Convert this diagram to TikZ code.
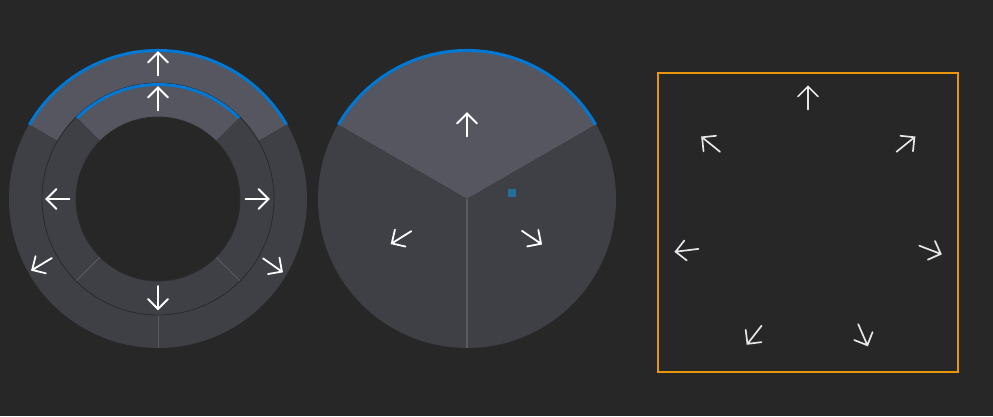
\documentclass[tikz,border=0pt]{standalone}
\usetikzlibrary{calc}
\definecolor{bg}{HTML}{272727}
\definecolor{segdark}{HTML}{3F4046}
\definecolor{seglight}{HTML}{55565F}
\definecolor{accent}{HTML}{0078D4}
\definecolor{sepline}{HTML}{5A5B61}
\definecolor{edgeline}{HTML}{2A2A2D}
\definecolor{framecol}{HTML}{E8960C}
\definecolor{markcol}{HTML}{236E98}
\definecolor{arrowgrey}{HTML}{E6E6E6}
\tikzset{
  arrowline/.style={draw=white, line width=1.8pt, line cap=round, line join=miter},
  softarrow/.style={draw=arrowgrey, line width=1.7pt},
  accentarc/.style={draw=accent, line width=3pt},
  sepstroke/.style={draw=sepline, line width=0.9pt},
  edgestroke/.style={draw=edgeline, line width=0.8pt},
}
% annulus segment: style, center, a1, a2, r, R
\newcommand\annseg[6]{\fill[#1] ($(#2)+(#3:#6)$) arc[start angle=#3,end angle=#4,radius=#6] -- ($(#2)+(#4:#5)$) arc[start angle=#4,end angle=#3,radius=#5] -- cycle;}
% pie sector: style, center, a1, a2, R
\newcommand\pieseg[5]{\fill[#1] (#2) -- ($(#2)+(#3:#5)$) arc[start angle=#3,end angle=#4,radius=#5] -- cycle;}
% arrow: [style], position, angle
\newcommand\dirarrow[3][]{\begin{scope}[shift={(#2)},rotate=#3]\draw[arrowline,#1] (-11.5pt,0pt) -- (11.5pt,0pt) (1.5pt,10pt) -- (11.5pt,0pt) -- (1.5pt,-10pt);\end{scope}}
\begin{document}
\begin{tikzpicture}[x=1pt,y=1pt]
\fill[bg] (0,0) rectangle (993,416);
\useasboundingbox (0,0) rectangle (993,416);

% ---------- left: double ring ----------
\coordinate (lc) at (158,217);
% outer ring
\annseg{seglight}{lc}{30}{150}{116pt}{149pt}
\annseg{segdark}{lc}{150}{270}{116pt}{149pt}
\annseg{segdark}{lc}{270}{390}{116pt}{149pt}
\draw[sepstroke] ($(lc)+(270:116pt)$) -- ($(lc)+(270:149pt)$);
% inner ring
\annseg{seglight}{lc}{45}{135}{82pt}{116pt}
\annseg{segdark}{lc}{135}{225}{82pt}{116pt}
\annseg{segdark}{lc}{225}{315}{82pt}{116pt}
\annseg{segdark}{lc}{315}{405}{82pt}{116pt}
\draw[sepstroke] ($(lc)+(225:82pt)$) -- ($(lc)+(225:116pt)$);
\draw[sepstroke] ($(lc)+(315:82pt)$) -- ($(lc)+(315:116pt)$);
\draw[edgestroke] (lc) circle[radius=116pt];
\draw[edgestroke] (lc) circle[radius=82pt];
% accent arcs
\draw[accentarc] ($(lc)+(30:148.5pt)$) arc[start angle=30,end angle=150,radius=148.5pt];
\draw[accentarc] ($(lc)+(45:114.5pt)$) arc[start angle=45,end angle=135,radius=114.5pt];
% arrows
\dirarrow{158,352}{90}
\dirarrow{158,317}{90}
\dirarrow{58,217}{180}
\dirarrow{257,217}{0}
\dirarrow{158,118.5}{270}
\dirarrow{42,152}{211}
\dirarrow{272.5,151}{-35}

% ---------- middle: three-sector pie ----------
\coordinate (mc) at (467,217);
\pieseg{seglight}{mc}{30}{150}{149pt}
\pieseg{segdark}{mc}{150}{270}{149pt}
\pieseg{segdark}{mc}{270}{390}{149pt}
\draw[draw=sepline, line width=1.2pt] (mc) -- ($(mc)+(270:149pt)$);
\draw[accentarc] ($(mc)+(30:148.5pt)$) arc[start angle=30,end angle=150,radius=148.5pt];
\fill[markcol] (508,219) rectangle (516,227);
\dirarrow{467,291}{90}
\dirarrow{401.5,178.7}{212}
\dirarrow{531.5,178.7}{-34}

% ---------- right: framed arrows ----------
\draw[draw=framecol, line width=2pt] (658.3,43.7) rectangle (958.3,343.3);
\dirarrow[softarrow]{808,318}{90}
\dirarrow[softarrow]{711,271.5}{141}
\dirarrow[softarrow]{905.5,271.5}{39}
\dirarrow[softarrow]{687,165.7}{187}
\dirarrow[softarrow]{930,166.2}{-21}
\dirarrow[softarrow]{754.5,81.2}{232}
\dirarrow[softarrow]{862.8,81.3}{-66.5}
\end{tikzpicture}
\end{document}
